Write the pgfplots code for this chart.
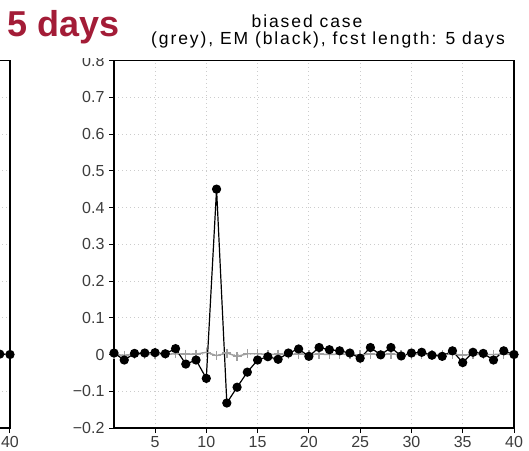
\documentclass[border=0pt]{standalone}
\usepackage{pgfplots}
\pgfplotsset{compat=1.18}
\usepackage{fontspec}
\setmainfont{Liberation Sans}
\newfontfamily\titlefont[LetterSpace=11]{Liberation Sans}
\definecolor{dayred}{RGB}{163,28,55}
\definecolor{ticktext}{RGB}{60,60,60}
\definecolor{plusgrey}{RGB}{160,160,160}

\pgfplotstableread{
x y
1 0.004
2 -0.015
3 0.003
4 0.004
5 0.005
6 0.002
7 0.016
8 -0.026
9 -0.015
10 -0.065
11 0.45
12 -0.132
13 -0.089
14 -0.048
15 -0.015
16 -0.006
17 -0.013
18 0.004
19 0.015
20 -0.005
21 0.019
22 0.013
23 0.010
24 0.004
25 -0.010
26 0.019
27 -0.001
28 0.019
29 -0.004
30 0.004
31 0.006
32 -0.002
33 -0.005
34 0.010
35 -0.022
36 0.006
37 0.003
38 -0.015
39 0.010
40 0.0
}\emdata

\pgfplotstableread{
x y
1 0.000
2 -0.002
3 0.001
4 0.000
5 0.001
6 0.000
7 0.002
8 0.001
9 0.001
10 0.006
11 -0.003
12 0.004
13 -0.005
14 0.002
15 0.002
16 0.000
17 0.001
18 0.000
19 0.001
20 0.000
21 0.001
22 0.000
23 0.001
24 0.000
25 -0.001
26 0.001
27 0.000
28 0.001
29 0.000
30 0.000
31 0.001
32 0.000
33 0.000
34 0.001
35 -0.001
36 0.000
37 0.000
38 0.000
39 0.001
40 0.000
}\greydata

\pgfplotstableread{
x y
36 0.004
37 0.002
38 -0.004
39 0.001
40 0.000
}\leftdata

\pgfplotsset{
  panel/.style={
    scale only axis,
    width=400pt, height=367.5pt,
    xmin=1, xmax=40, ymin=-0.2, ymax=0.8,
    xtick={5,10,...,40},
    ytick={-0.2,-0.1,0,0.1,0.2,0.3,0.4,0.5,0.6,0.7,0.8},
    yticklabels={−0.2,−0.1,0,0.1,0.2,0.3,0.4,0.5,0.6,0.7,0.8},
    xtick pos=left, ytick pos=left,
    tick align=outside,
    major tick length=5pt,
    tick style={black, line width=1pt},
    axis line style={black, line width=1.3pt},
    grid=major,
    major grid style={gray!40, line width=0.8pt, dash pattern=on 1pt off 3pt},
    /pgf/number format/assume math mode=true,
    ticklabel style={font=\fontsize{16}{16}\selectfont, text=ticktext},
    yticklabel style={xshift=-1pt},
    xticklabel style={inner sep=0.8pt, yshift=-2.6pt},
    clip=false,
  },
  emline/.style={black, line width=1.2pt, mark=*, mark size=4pt, mark options={solid, fill=black}},
  greyline/.style={plusgrey, line width=1.4pt, mark=+, mark size=4.5pt, mark options={solid, line width=1.4pt}},
}

\begin{document}
\begin{tikzpicture}
\useasboundingbox (0pt,0pt) rectangle (529pt,450pt);
% partial left panel (only its right edge is in view)
\begin{scope}
\clip (0pt,0pt) rectangle (529pt,450pt);
\begin{axis}[panel, at={(10pt,22pt)}, anchor=south east,
  yticklabels={}, xtick={30,35,40}, xticklabels={,,40}]
\addplot[greyline] table[x=x,y=y] {\leftdata};
\addplot[emline] table[x=x,y=y] {\leftdata};
\end{axis}
\end{scope}
% main panel
\begin{axis}[panel, at={(114pt,22pt)}, anchor=south west]
\addplot[greyline] table[x=x,y=y] {\greydata};
\addplot[emline] table[x=x,y=y] {\emdata};
\end{axis}
% cover top of 0.8 label as in the original composition
\fill[white] (60pt,392pt) rectangle (111pt,450pt);
\node[anchor=base west, inner sep=0pt, text=dayred, font=\fontsize{36}{36}\selectfont\bfseries] at (7pt,413pt) {5 days};
\node[anchor=base, inner sep=0pt, font=\titlefont\fontsize{17.5}{17.5}\selectfont] at (307pt,422.7pt) {biased case};
\node[anchor=base, inner sep=0pt, font=\titlefont\fontsize{17.5}{17.5}\selectfont] at (328pt,405pt) {(grey), EM (black), fcst length: 5 days};
\end{tikzpicture}
\end{document}
